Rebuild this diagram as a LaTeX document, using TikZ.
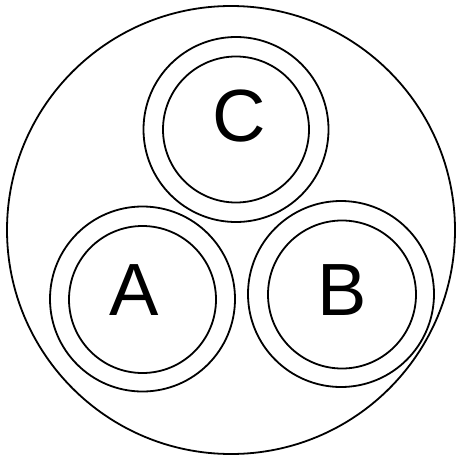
\documentclass[tikz,border=0pt]{standalone}
\usepackage{fontspec}
\setmainfont{Liberation Sans}
\usepackage{tikz}

\tikzset{
    ring/.style={circle, draw, line width=1.8pt, inner sep=0pt, minimum size=#1},
    letter/.style={inner sep=0pt, font=\fontsize{74}{74}\selectfont}
}

\begin{document}
\begin{tikzpicture}[x=1pt, y=-1pt]
    \useasboundingbox (0,0) rectangle (456,460);

    % outer frame
    \node[ring=448pt] (frame) at (231,230) {};

    % C on top
    \node[ring=185pt] (Cout) at (236,129.5) {};
    \node[ring=146pt] (Cin) at (236,129.5) {};
    \node[letter] (labC) at (239,116) {C};

    % A at lower left
    \node[ring=185pt] (Aout) at (142.5,299) {};
    \node[ring=147pt] (Ain) at (142.5,299.5) {};
    \node[letter] (labA) at (134,290) {A};

    % B at lower right
    \node[ring=186pt] (Bout) at (341,294) {};
    \node[ring=148pt] (Bin) at (342,294.5) {};
    \node[letter] (labB) at (342,290) {B};
\end{tikzpicture}
\end{document}
